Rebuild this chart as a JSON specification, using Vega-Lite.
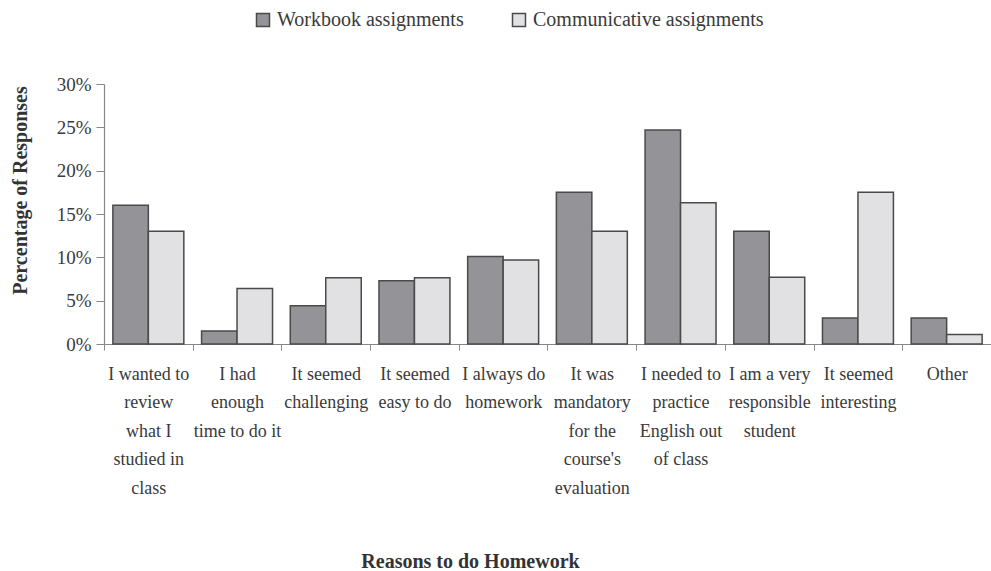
{
  "$schema": "https://vega.github.io/schema/vega-lite/v6.json",
  "autosize": {"type": "none"},
  "width": 887,
  "height": 260,
  "padding": {"left": 104, "top": 84, "right": 0, "bottom": 227},
  "background": "white",
  "config": {
    "view": {"stroke": null},
    "font": "Liberation Serif",
    "legend": {"labelFont": "Liberation Serif", "labelFontSize": 20},
    "text": {"font": "Liberation Serif"}
  },
  "data": {
    "values": [
      {"reason": "I wanted to|review|what I|studied in|class", "type": "Workbook assignments", "pct": 16.0},
      {"reason": "I wanted to|review|what I|studied in|class", "type": "Communicative assignments", "pct": 13.0},
      {"reason": "I had|enough|time to do it", "type": "Workbook assignments", "pct": 1.5},
      {"reason": "I had|enough|time to do it", "type": "Communicative assignments", "pct": 6.4},
      {"reason": "It seemed|challenging", "type": "Workbook assignments", "pct": 4.4},
      {"reason": "It seemed|challenging", "type": "Communicative assignments", "pct": 7.65},
      {"reason": "It seemed|easy to do", "type": "Workbook assignments", "pct": 7.3},
      {"reason": "It seemed|easy to do", "type": "Communicative assignments", "pct": 7.65},
      {"reason": "I always do|homework", "type": "Workbook assignments", "pct": 10.1},
      {"reason": "I always do|homework", "type": "Communicative assignments", "pct": 9.7},
      {"reason": "It was|mandatory|for the|course's|evaluation", "type": "Workbook assignments", "pct": 17.5},
      {"reason": "It was|mandatory|for the|course's|evaluation", "type": "Communicative assignments", "pct": 13.0},
      {"reason": "I needed to|practice|English out|of class", "type": "Workbook assignments", "pct": 24.7},
      {"reason": "I needed to|practice|English out|of class", "type": "Communicative assignments", "pct": 16.3},
      {"reason": "I am a very|responsible|student", "type": "Workbook assignments", "pct": 13.0},
      {"reason": "I am a very|responsible|student", "type": "Communicative assignments", "pct": 7.7},
      {"reason": "It seemed|interesting", "type": "Workbook assignments", "pct": 3.0},
      {"reason": "It seemed|interesting", "type": "Communicative assignments", "pct": 17.5},
      {"reason": "Other", "type": "Workbook assignments", "pct": 3.0},
      {"reason": "Other", "type": "Communicative assignments", "pct": 1.1}
    ]
  },
  "mark": {"type": "bar", "stroke": "#4a4a4a", "strokeWidth": 1.5},
  "encoding": {
    "x": {
      "field": "reason",
      "type": "nominal",
      "sort": null,
      "scale": {"paddingInner": 0.2, "paddingOuter": 0.1},
      "axis": {
        "title": "Reasons to do Homework",
        "titleFont": "Liberation Serif",
        "titleFontSize": 20,
        "titleFontWeight": "bold",
        "titleColor": "#333333",
        "titleX": 366,
        "titleY": 223,
        "titleBaseline": "alphabetic",
        "titleAnchor": null,
        "labelExpr": "split(datum.label, '|')",
        "labelAngle": 0,
        "labelFont": "Liberation Serif",
        "labelFontSize": 18,
        "labelColor": "#3a3a3a",
        "labelLineHeight": 28.5,
        "labelBaseline": "top",
        "labelPadding": 15,
        "labelLimit": 0,
        "labelOffset": 44.35,
        "tickOffset": -44.35,
        "tickSize": 6,
        "tickColor": "#888888",
        "domainColor": "#888888",
        "domainWidth": 1.2,
        "grid": false
      }
    },
    "xOffset": {
      "field": "type",
      "type": "nominal",
      "sort": ["Workbook assignments", "Communicative assignments"]
    },
    "y": {
      "field": "pct",
      "type": "quantitative",
      "scale": {"domain": [0, 30]},
      "axis": {
        "title": "Percentage of  Responses",
        "titleFont": "Liberation Serif",
        "titleFontSize": 20,
        "titleFontWeight": "bold",
        "titleColor": "#333333",
        "titleAngle": -90,
        "titleX": -84,
        "titleY": 106,
        "titleAlign": "center",
        "titleBaseline": "middle",
        "values": [0, 5, 10, 15, 20, 25, 30],
        "labelExpr": "datum.value + '%'",
        "labelFont": "Liberation Serif",
        "labelFontSize": 19,
        "labelColor": "#3a3a3a",
        "labelPadding": 5,
        "tickSize": 8,
        "tickColor": "#888888",
        "domainColor": "#888888",
        "domainWidth": 1.2,
        "grid": false
      }
    },
    "fill": {
      "field": "type",
      "type": "nominal",
      "sort": ["Workbook assignments", "Communicative assignments"],
      "scale": {"range": ["#949498", "#e1e1e3"]},
      "legend": {
        "title": null,
        "orient": "none",
        "direction": "horizontal",
        "legendX": 149,
        "legendY": -74,
        "symbolType": "square",
        "symbolSize": 169,
        "symbolStrokeColor": "#4a4a4a",
        "symbolStrokeWidth": 1.5,
        "labelFont": "Liberation Serif",
        "labelFontSize": 20,
        "labelColor": "#3a3a3a",
        "labelOffset": 4,
        "labelLimit": 0,
        "columnPadding": 45
      }
    }
  }
}
